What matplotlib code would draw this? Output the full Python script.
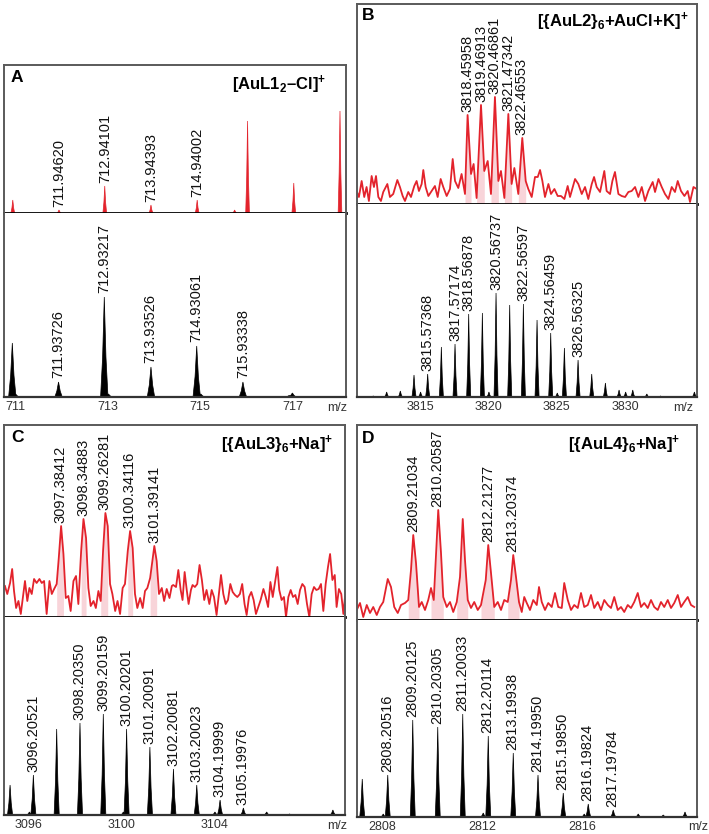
import numpy as np
import matplotlib
matplotlib.use('Agg')
import matplotlib.pyplot as plt

plt.rcParams['font.family'] = ['Liberation Sans', 'DejaVu Sans']
plt.rcParams['mathtext.fontset'] = 'custom'
plt.rcParams['mathtext.bf'] = 'Liberation Sans:bold'
plt.rcParams['mathtext.rm'] = 'Liberation Sans:bold'
plt.rcParams['mathtext.default'] = 'bf'

# ---- panel A : [AuL1_2-Cl]+ ----
A_red_mz = [710.95, 711.95, 712.94, 713.94, 714.94, 715.75, 716.03, 717.03, 718.03]
A_red_int = [13, 3, 27, 8, 13, 3, 92, 30, 102]
A_red_labels = ['711.94620', '712.94101', '713.94393', '714.94002']
A_blk_mz = [710.94, 711.01, 711.94, 712.93, 713.02, 713.94, 714.93, 715.02, 715.93, 716.93, 717.0]
A_blk_int = [54, 3, 15, 100, 3, 30, 51, 3, 15, 1.5, 4]
A_blk_labels = ['711.93726', '712.93217', '713.93526', '714.93061', '715.93338']
A_ticks = [711, 713, 715, 717]

# ---- panel B : [{AuL2}6+AuCl+K]+ ----
B_red_mz = [3810.37, 3810.54, 3810.74, 3810.93, 3811.10, 3811.27, 3811.47, 3811.64, 3811.79, 3811.96,
            3812.15, 3812.32, 3812.62, 3812.81, 3813.05, 3813.35, 3813.54, 3813.74, 3813.91, 3814.15,
            3814.35, 3814.59, 3814.76, 3814.93, 3815.13, 3815.25, 3815.42, 3815.62, 3815.86, 3816.10,
            3816.30, 3816.52, 3816.71, 3816.96, 3817.20, 3817.40, 3817.57, 3817.81, 3818.05, 3818.30,
            3818.49, 3818.74, 3818.93, 3819.15, 3819.47, 3819.71, 3819.96, 3820.20, 3820.49, 3820.74,
            3820.93, 3821.18, 3821.47, 3821.71, 3821.91, 3822.20, 3822.49, 3822.74, 3822.93, 3823.18,
            3823.42, 3823.62, 3823.79, 3823.96, 3824.15, 3824.40, 3824.59, 3824.84, 3825.08, 3825.32,
            3825.57, 3825.81, 3825.98, 3826.35, 3826.59, 3826.84, 3827.08, 3827.32, 3827.57, 3827.74,
            3827.93, 3828.18, 3828.49, 3828.66, 3828.91, 3829.08, 3829.27, 3829.52, 3829.76, 3830.01,
            3830.25, 3830.49, 3830.74, 3830.98, 3831.23, 3831.47, 3831.71, 3832.03, 3832.20, 3832.45,
            3832.69, 3832.93, 3833.18, 3833.42, 3833.66, 3833.86, 3834.10, 3834.35, 3834.59, 3834.76,
            3835.01, 3835.25]
B_red_int = [13, 7, 23, 7, 17, 3, 28, 17, 28, 7,
             3, 12, 20, 7, 10, 24, 17, 8, 3, 12,
             7, 18, 23, 13, 20, 34, 17, 8, 13, 18,
             7, 25, 17, 8, 15, 45, 23, 16, 30, 10,
             89, 30, 40, 6, 99, 33, 43, 10, 107, 23,
             33, 6, 90, 20, 36, 10, 66, 23, 15, 7,
             27, 27, 34, 23, 7, 20, 10, 15, 8, 8,
             5, 18, 7, 25, 20, 10, 17, 5, 20, 27,
             17, 12, 33, 13, 10, 23, 32, 10, 8, 7,
             12, 13, 17, 7, 17, 3, 13, 22, 12, 25,
             17, 10, 5, 17, 12, 23, 13, 8, 13, 2,
             17, 15]
B_red_labels = ['3818.45958', '3819.46913', '3820.46861', '3821.47342', '3822.46553']
B_blk_mz = [3811.59, 3812.57, 3813.57, 3814.57, 3815.05, 3815.57, 3816.57, 3817.57, 3818.57, 3819.57,
            3820.05, 3820.57, 3821.57, 3822.57, 3823.57, 3824.57, 3825.05, 3825.57, 3826.57, 3827.57,
            3828.57, 3829.57, 3830.05, 3830.57, 3831.6, 3832.6, 3835.08]
B_blk_int = [1, 5, 6, 22, 5, 23, 50, 53, 83, 84,
             5, 104, 92, 93, 77, 64, 4, 49, 37, 23,
             14, 7, 5, 7, 3, 1, 5]
B_blk_labels = ['3815.57368', '3817.57174', '3818.56878', '3820.56737', '3822.56597',
                '3824.56459', '3826.56325']
B_ticks = [3815, 3820, 3825, 3830]

# ---- panel C : [{AuL3}6+Na]+ ----
C_red_mz = [3094.99, 3095.09, 3095.21, 3095.30, 3095.38, 3095.47, 3095.57, 3095.67, 3095.78, 3095.85,
            3095.95, 3096.04, 3096.14, 3096.24, 3096.35, 3096.47, 3096.57, 3096.67, 3096.78, 3096.90,
            3097.00, 3097.10, 3097.21, 3097.30, 3097.40, 3097.50, 3097.60, 3097.71, 3097.81, 3097.93,
            3098.04, 3098.14, 3098.26, 3098.36, 3098.47, 3098.57, 3098.67, 3098.79, 3098.89, 3099.00,
            3099.10, 3099.20, 3099.30, 3099.40, 3099.50, 3099.60, 3099.72, 3099.82, 3099.93, 3100.04,
            3100.14, 3100.26, 3100.36, 3100.47, 3100.57, 3100.67, 3100.79, 3100.90, 3101.00, 3101.10,
            3101.22, 3101.30, 3101.40, 3101.50, 3101.60, 3101.72, 3101.82, 3101.93, 3102.05, 3102.15,
            3102.21, 3102.33, 3102.43, 3102.53, 3102.61, 3102.70, 3102.79, 3102.87, 3102.97, 3103.04,
            3103.14, 3103.24, 3103.34, 3103.44, 3103.54, 3103.64, 3103.76, 3103.86, 3103.96, 3104.07,
            3104.17, 3104.26, 3104.36, 3104.46, 3104.56, 3104.66, 3104.76, 3104.86, 3104.96, 3105.07,
            3105.17, 3105.27, 3105.36, 3105.46, 3105.56, 3105.66, 3105.76, 3105.86, 3105.96, 3106.08,
            3106.18, 3106.28, 3106.38, 3106.48, 3106.58, 3106.68, 3106.76, 3106.86, 3106.96, 3107.05,
            3107.15, 3107.25, 3107.35, 3107.45, 3107.55, 3107.65, 3107.75, 3107.85, 3107.95, 3108.05,
            3108.15, 3108.25, 3108.35, 3108.45, 3108.55, 3108.65, 3108.75, 3108.85, 3108.94, 3109.04,
            3109.14, 3109.22, 3109.32, 3109.42, 3109.51, 3109.58]
C_red_int = [31, 23, 34, 48, 26, 9, 16, 3, 23, 36,
             16, 29, 23, 38, 34, 38, 34, 36, 3, 36,
             23, 28, 33, 59, 91, 63, 19, 21, 6, 36,
             41, 13, 66, 98, 79, 29, 11, 16, 9, 26,
             16, 66, 104, 91, 33, 23, 6, 16, 3, 29,
             33, 66, 86, 69, 23, 9, 19, 9, 26, 29,
             39, 53, 71, 56, 23, 29, 16, 28, 19, 31,
             32, 30, 47, 27, 17, 45, 27, 13, 27, 32,
             30, 33, 52, 37, 17, 27, 13, 27, 20, 2,
             23, 42, 23, 13, 17, 33, 25, 22, 20, 23,
             33, 13, 2, 20, 25, 17, 3, 10, 17, 28,
             20, 10, 35, 20, 35, 50, 27, 17, 20, 0,
             20, 27, 20, 22, 13, 27, 33, 30, 13, 0,
             23, 30, 27, 28, 33, 6, 33, 50, 63, 37,
             42, 10, 28, 23, 3, 20]
C_red_labels = ['3097.38412', '3098.34883', '3099.26281', '3100.34116', '3101.39141']
C_blk_mz = [3095.21, 3096.04, 3096.21, 3097.21, 3098.21, 3099.21, 3100.07, 3100.21, 3101.21, 3102.22,
            3103.22, 3104.0, 3104.22, 3105.22, 3106.22, 3107.2, 3108.2, 3109.06]
C_blk_int = [30, 3, 40, 86, 92, 101, 3, 86, 68, 46,
             30, 3, 15, 7, 3, 1, 0.5, 5]
C_blk_labels = ['3096.20521', '3098.20350', '3099.20159', '3100.20201', '3101.20091',
                '3102.20081', '3103.20023', '3104.19999', '3105.19976']
C_ticks = [3096, 3100, 3104]

# ---- panel D : [{AuL4}6+Na]+ ----
D_red_mz = [2806.97, 2807.10, 2807.23, 2807.37, 2807.50, 2807.63, 2807.77, 2807.90, 2808.03, 2808.21,
            2808.34, 2808.47, 2808.61, 2808.74, 2808.90, 2809.03, 2809.14, 2809.23, 2809.34, 2809.46,
            2809.57, 2809.70, 2809.83, 2809.94, 2810.05, 2810.13, 2810.23, 2810.34, 2810.43, 2810.57,
            2810.70, 2810.83, 2810.97, 2811.10, 2811.21, 2811.30, 2811.41, 2811.54, 2811.67, 2811.81,
            2811.94, 2812.13, 2812.23, 2812.34, 2812.47, 2812.61, 2812.74, 2812.87, 2813.01, 2813.14,
            2813.23, 2813.34, 2813.46, 2813.57, 2813.67, 2813.77, 2813.90, 2814.03, 2814.17, 2814.26,
            2814.37, 2814.50, 2814.63, 2814.77, 2814.90, 2815.03, 2815.17, 2815.27, 2815.41, 2815.54,
            2815.67, 2815.81, 2815.94, 2816.07, 2816.21, 2816.34, 2816.47, 2816.61, 2816.74, 2816.87,
            2817.01, 2817.14, 2817.27, 2817.41, 2817.54, 2817.67, 2817.81, 2817.94, 2818.07, 2818.21,
            2818.34, 2818.47, 2818.61, 2818.74, 2818.87, 2819.01, 2819.14, 2819.27, 2819.41, 2819.54,
            2819.67, 2819.81, 2819.94, 2820.07, 2820.21, 2820.34, 2820.47]
D_red_int = [10, 17, 3, 15, 7, 13, 5, 13, 18, 41,
             33, 13, 7, 15, 17, 20, 50, 85, 57, 13,
             18, 10, 20, 32, 20, 60, 110, 67, 23, 13,
             18, 8, 18, 43, 101, 60, 20, 12, 18, 10,
             15, 40, 75, 47, 13, 18, 10, 20, 18, 40,
             65, 43, 18, 8, 23, 17, 10, 20, 15, 33,
             18, 10, 17, 13, 27, 13, 12, 37, 20, 10,
             15, 12, 27, 13, 15, 25, 12, 18, 10, 20,
             15, 12, 23, 10, 13, 8, 15, 12, 18, 27,
             13, 17, 12, 20, 13, 10, 18, 13, 20, 12,
             17, 25, 13, 18, 23, 15, 13]
D_red_labels = ['2809.21034', '2810.20587', '2812.21277', '2813.20374']
D_shaded = [2809.21, 2810.21, 2811.21, 2812.21, 2813.20]
D_blk_mz = [2807.19, 2808.03, 2808.21, 2809.21, 2810.21, 2811.21, 2812.03, 2812.23, 2813.23, 2814.22,
            2815.23, 2816.07, 2816.23, 2817.23, 2818.23, 2819.23, 2820.1]
D_blk_int = [38, 3, 42, 97, 90, 103, 4, 81, 64, 42,
             24, 3, 13, 7, 3, 2, 5]
D_blk_labels = ['2808.20516', '2809.20125', '2810.20305', '2811.20033', '2812.20114',
                '2813.19938', '2814.19950', '2815.19850', '2816.19824', '2817.19784']
D_ticks = [2808, 2812, 2816]

RED = '#e3232c'
PINK = '#f6c6cd'
BOX = '#5a5a5a'
W, H = 709, 834

fig = plt.figure(figsize=(W / 100, H / 100), dpi=100)


def rect(l, r, t, b):
    return [l / W, 1 - b / H, (r - l) / W, (b - t) / H]


def sticks(ax, mz, inten, hw, color):
    # simple triangular profile for every centroid peak
    for m, v in zip(mz, inten):
        ax.fill([m - hw, m - 0.45 * hw, m, m + 0.45 * hw, m + hw],
                [0, 0.4 * v, v, 0.4 * v, 0], color=color, lw=0.5)


def label_peaks(ax, labels, mz, inten, gap=3):
    mz = np.asarray(mz)
    inten = np.asarray(inten)
    for lab in labels:
        x = float(lab)
        near = np.abs(mz - x) < 0.25
        h = inten[near].max() if near.any() else inten[np.argmin(np.abs(mz - x))]
        ax.annotate(lab, xy=(x, h), xytext=(0, gap), textcoords='offset pixels',
                    rotation=90, ha='center', va='bottom', fontsize=10.5, color='#111')


def panel(letter, title, top, bot, xlim, ticks, ylims, title_off, letter_off, mz_off):
    ax_t = fig.add_axes(rect(*top))
    ax_b = fig.add_axes(rect(*bot))
    for ax in (ax_t, ax_b):
        ax.set_xlim(*xlim)
        ax.set_yticks([])
        for s in ('left', 'right'):
            ax.spines[s].set_color(BOX)
            ax.spines[s].set_linewidth(1.4)
    ax_t.set_xticks([])
    ax_t.spines['top'].set_color(BOX)
    ax_t.spines['top'].set_linewidth(1.4)
    ax_t.spines['bottom'].set_color('black')
    ax_t.spines['bottom'].set_linewidth(2)
    ax_t.spines['bottom'].set_zorder(5)
    ax_b.spines['top'].set_visible(False)
    ax_b.spines['bottom'].set_color('#333333')
    ax_b.spines['bottom'].set_linewidth(1.6)
    ax_t.set_ylim(0, ylims[0])
    ax_b.set_ylim(0, ylims[1])
    ax_b.set_xticks(ticks)
    ax_b.set_xticklabels([str(t) for t in ticks])
    ax_b.tick_params(axis='x', length=0, pad=3, labelsize=9, labelcolor='#333333')
    ax_t.annotate(letter, xy=(0, 1), xycoords='axes fraction', xytext=letter_off,
                  textcoords='offset pixels', ha='center', va='center',
                  fontsize=12.5, fontweight='bold')
    ax_t.annotate(title, xy=(1, 1), xycoords='axes fraction', xytext=title_off,
                  textcoords='offset pixels', ha='right', va='center',
                  fontsize=12, fontweight='bold')
    ax_b.annotate('m/z', xy=(1, 0), xycoords='axes fraction', xytext=mz_off,
                  textcoords='offset pixels', ha='center', va='center', fontsize=9,
                  color='#333333')
    return ax_t, ax_b


def red_trace(ax, mz, inten, shaded, hw):
    mz = np.asarray(mz)
    inten = np.asarray(inten)
    for p in shaded:
        ax.fill_between(mz, 0, inten, where=np.abs(mz - p) <= hw, color=PINK,
                        alpha=0.75, lw=0)
    ax.plot(mz, inten, color=RED, lw=1.3, solid_joinstyle='round')


# Panel A
ax_t, ax_b = panel('A', '[AuL1$_2$–Cl$]^{+}$', (4, 346, 65, 213), (4, 346, 213, 397),
                   (710.76, 718.16), A_ticks, (148, 184), (-20, -20), (13, -13), (-9, -11))
sticks(ax_t, A_red_mz, A_red_int, 0.04, RED)
label_peaks(ax_t, A_red_labels, A_red_mz, A_red_int)
sticks(ax_b, A_blk_mz, A_blk_int, 0.08, 'black')
label_peaks(ax_b, A_blk_labels, A_blk_mz, A_blk_int, gap=4)

# Panel B
ax_t, ax_b = panel('B', '[{AuL2}$_6$+AuCl+K$]^{+}$', (357, 697, 4, 204), (357, 697, 204, 397),
                   (3810.40, 3835.27), B_ticks, (200, 193), (-9, -18), (11, -12), (-14, -11))
red_trace(ax_t, B_red_mz, B_red_int, [float(s) for s in B_red_labels], 0.4)
label_peaks(ax_t, B_red_labels, B_red_mz, B_red_int)
sticks(ax_b, B_blk_mz, B_blk_int, 0.15, 'black')
label_peaks(ax_b, B_blk_labels, B_blk_mz, B_blk_int)

# Panel C
ax_t, ax_b = panel('C', '[{AuL3}$_6$+Na$]^{+}$', (4, 345, 425, 617), (4, 345, 617, 815),
                   (3094.95, 3109.58), C_ticks, (192, 198), (-12, -20), (13, -13), (-8, -11))
red_trace(ax_t, C_red_mz, C_red_int, [float(s) for s in C_red_labels], 0.2)
label_peaks(ax_t, C_red_labels, C_red_mz, C_red_int)
sticks(ax_b, C_blk_mz, C_blk_int, 0.11, 'black')
label_peaks(ax_b, C_blk_labels, C_blk_mz, C_blk_int)

# Panel D
ax_t, ax_b = panel('D', '[{AuL4}$_6$+Na$]^{+}$', (357, 697, 425, 620), (357, 697, 620, 817),
                   (2806.98, 2820.58), D_ticks, (195, 197), (-17, -20), (11, -13), (1, -10))
red_trace(ax_t, D_red_mz, D_red_int, D_shaded, 0.3)
label_peaks(ax_t, D_red_labels, D_red_mz, D_red_int)
sticks(ax_b, D_blk_mz, D_blk_int, 0.1, 'black')
label_peaks(ax_b, D_blk_labels, D_blk_mz, D_blk_int)

fig.savefig('out.png', dpi=100, facecolor='white')
